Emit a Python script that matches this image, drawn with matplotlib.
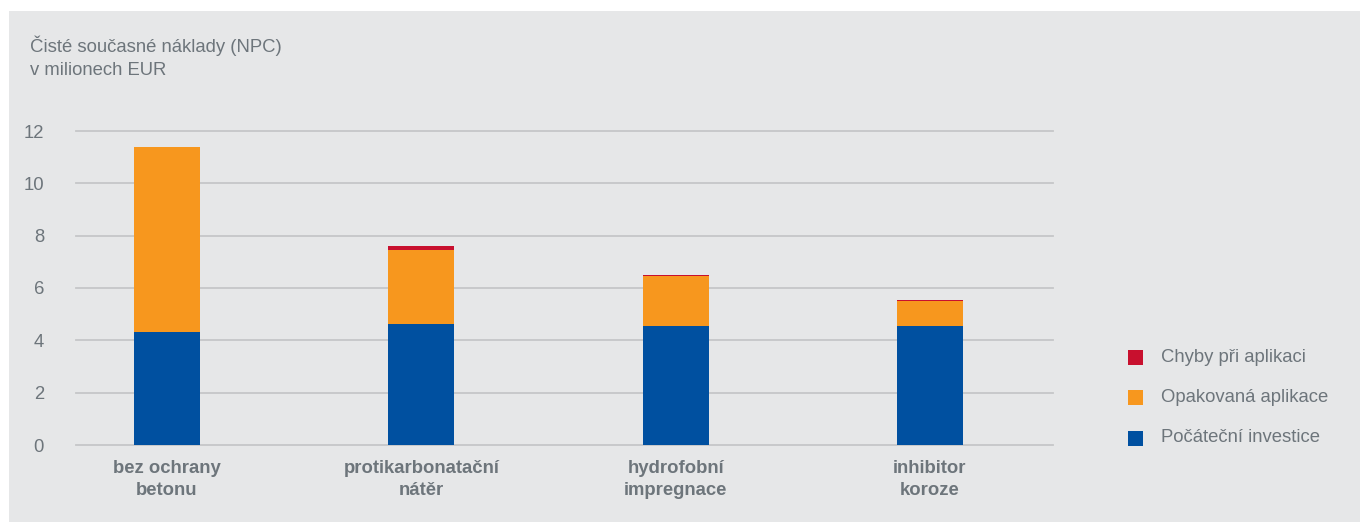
"""NPC stacked bar chart (Czech labels)."""

import matplotlib
matplotlib.use("Agg")
import matplotlib.pyplot as plt
import matplotlib.patches as mpatches
import numpy as np

# ---------------------------------------------------------------------------
# Data
# ---------------------------------------------------------------------------
categories = ["bez ochrany\nbetonu", "protikarbonatační\nnátěr",
              "hydrofobní\nimpregnace", "inhibitor\nkoroze"]
initial = [4.32, 4.62, 4.55, 4.55]          # Počáteční investice
reapply = [7.07, 2.83, 1.92, 0.95]          # Opakovaná aplikace
errors = [0.0, 0.15, 0.03, 0.04]            # Chyby při aplikaci
series_names = ["Chyby při aplikaci", "Opakovaná aplikace", "Počáteční investice"]
y_ticks = [0, 2, 4, 6, 8, 10, 12]

# ---------------------------------------------------------------------------
# Style
# ---------------------------------------------------------------------------
_BG = "#E6E7E8"
_GRID = "#C5C6C8"
_TEXT = "#6D757B"
_FS = 13.3
_COLORS = {"Chyby při aplikaci": "#C8102E",
           "Opakovaná aplikace": "#F7971E",
           "Počáteční investice": "#0050A0"}
plt.rcParams["font.family"] = ["Liberation Sans", "DejaVu Sans"]

W, H = 1360, 522
fig = plt.figure(figsize=(W / 100, H / 100), dpi=100)
fig.patch.set_facecolor("white")
# grey panel
fig.add_artist(mpatches.Rectangle((9 / W, 0), 1, 1 - 11 / H,
                                  transform=fig.transFigure,
                                  facecolor=_BG, edgecolor="none", zorder=0))

ax = fig.add_axes([76 / W, 1 - 445 / H, (1053 - 76) / W, (445 - 131) / H])
ax.set_facecolor("none")

x = np.arange(len(categories))
width = 0.26
init = np.array(initial)
reap = np.array(reapply)
err = np.array(errors)
ax.bar(x, init, width, color=_COLORS["Počáteční investice"], zorder=3)
ax.bar(x, reap, width, bottom=init, color=_COLORS["Opakovaná aplikace"], zorder=3)
ax.bar(x, err, width, bottom=init + reap, color=_COLORS["Chyby při aplikaci"], zorder=3)

ax.set_xlim(-0.358, 3.484)
ax.set_ylim(0, 12)
ax.set_yticks(y_ticks)
for t in y_ticks:
    ax.axhline(t, color=_GRID, lw=1.3, zorder=1, clip_on=False)
for s in ax.spines.values():
    s.set_visible(False)
ax.tick_params(axis="y", length=0, pad=23, labelsize=_FS, labelcolor=_TEXT)
ax.tick_params(axis="x", length=0, pad=11, labelsize=_FS, labelcolor=_TEXT)
ax.set_xticks(x)
ax.set_xticklabels(categories, fontweight="bold", linespacing=1.38)

fig.text(30 / W, 1 - 57 / H, "Čisté současné náklady (NPC)\nv milionech EUR",
         ha="left", va="center", fontsize=_FS, color=_TEXT, linespacing=1.5)

# Legend
for i, name in enumerate(series_names):
    yc = 357 + i * 40.5
    fig.add_artist(mpatches.Rectangle((1128 / W, 1 - (yc + 7.5) / H), 15 / W, 15 / H,
                                      transform=fig.transFigure,
                                      facecolor=_COLORS[name], edgecolor="none"))
    fig.text(1161 / W, 1 - yc / H, name, ha="left", va="center",
             fontsize=_FS, color=_TEXT)

fig.savefig("out.png", dpi=100)
